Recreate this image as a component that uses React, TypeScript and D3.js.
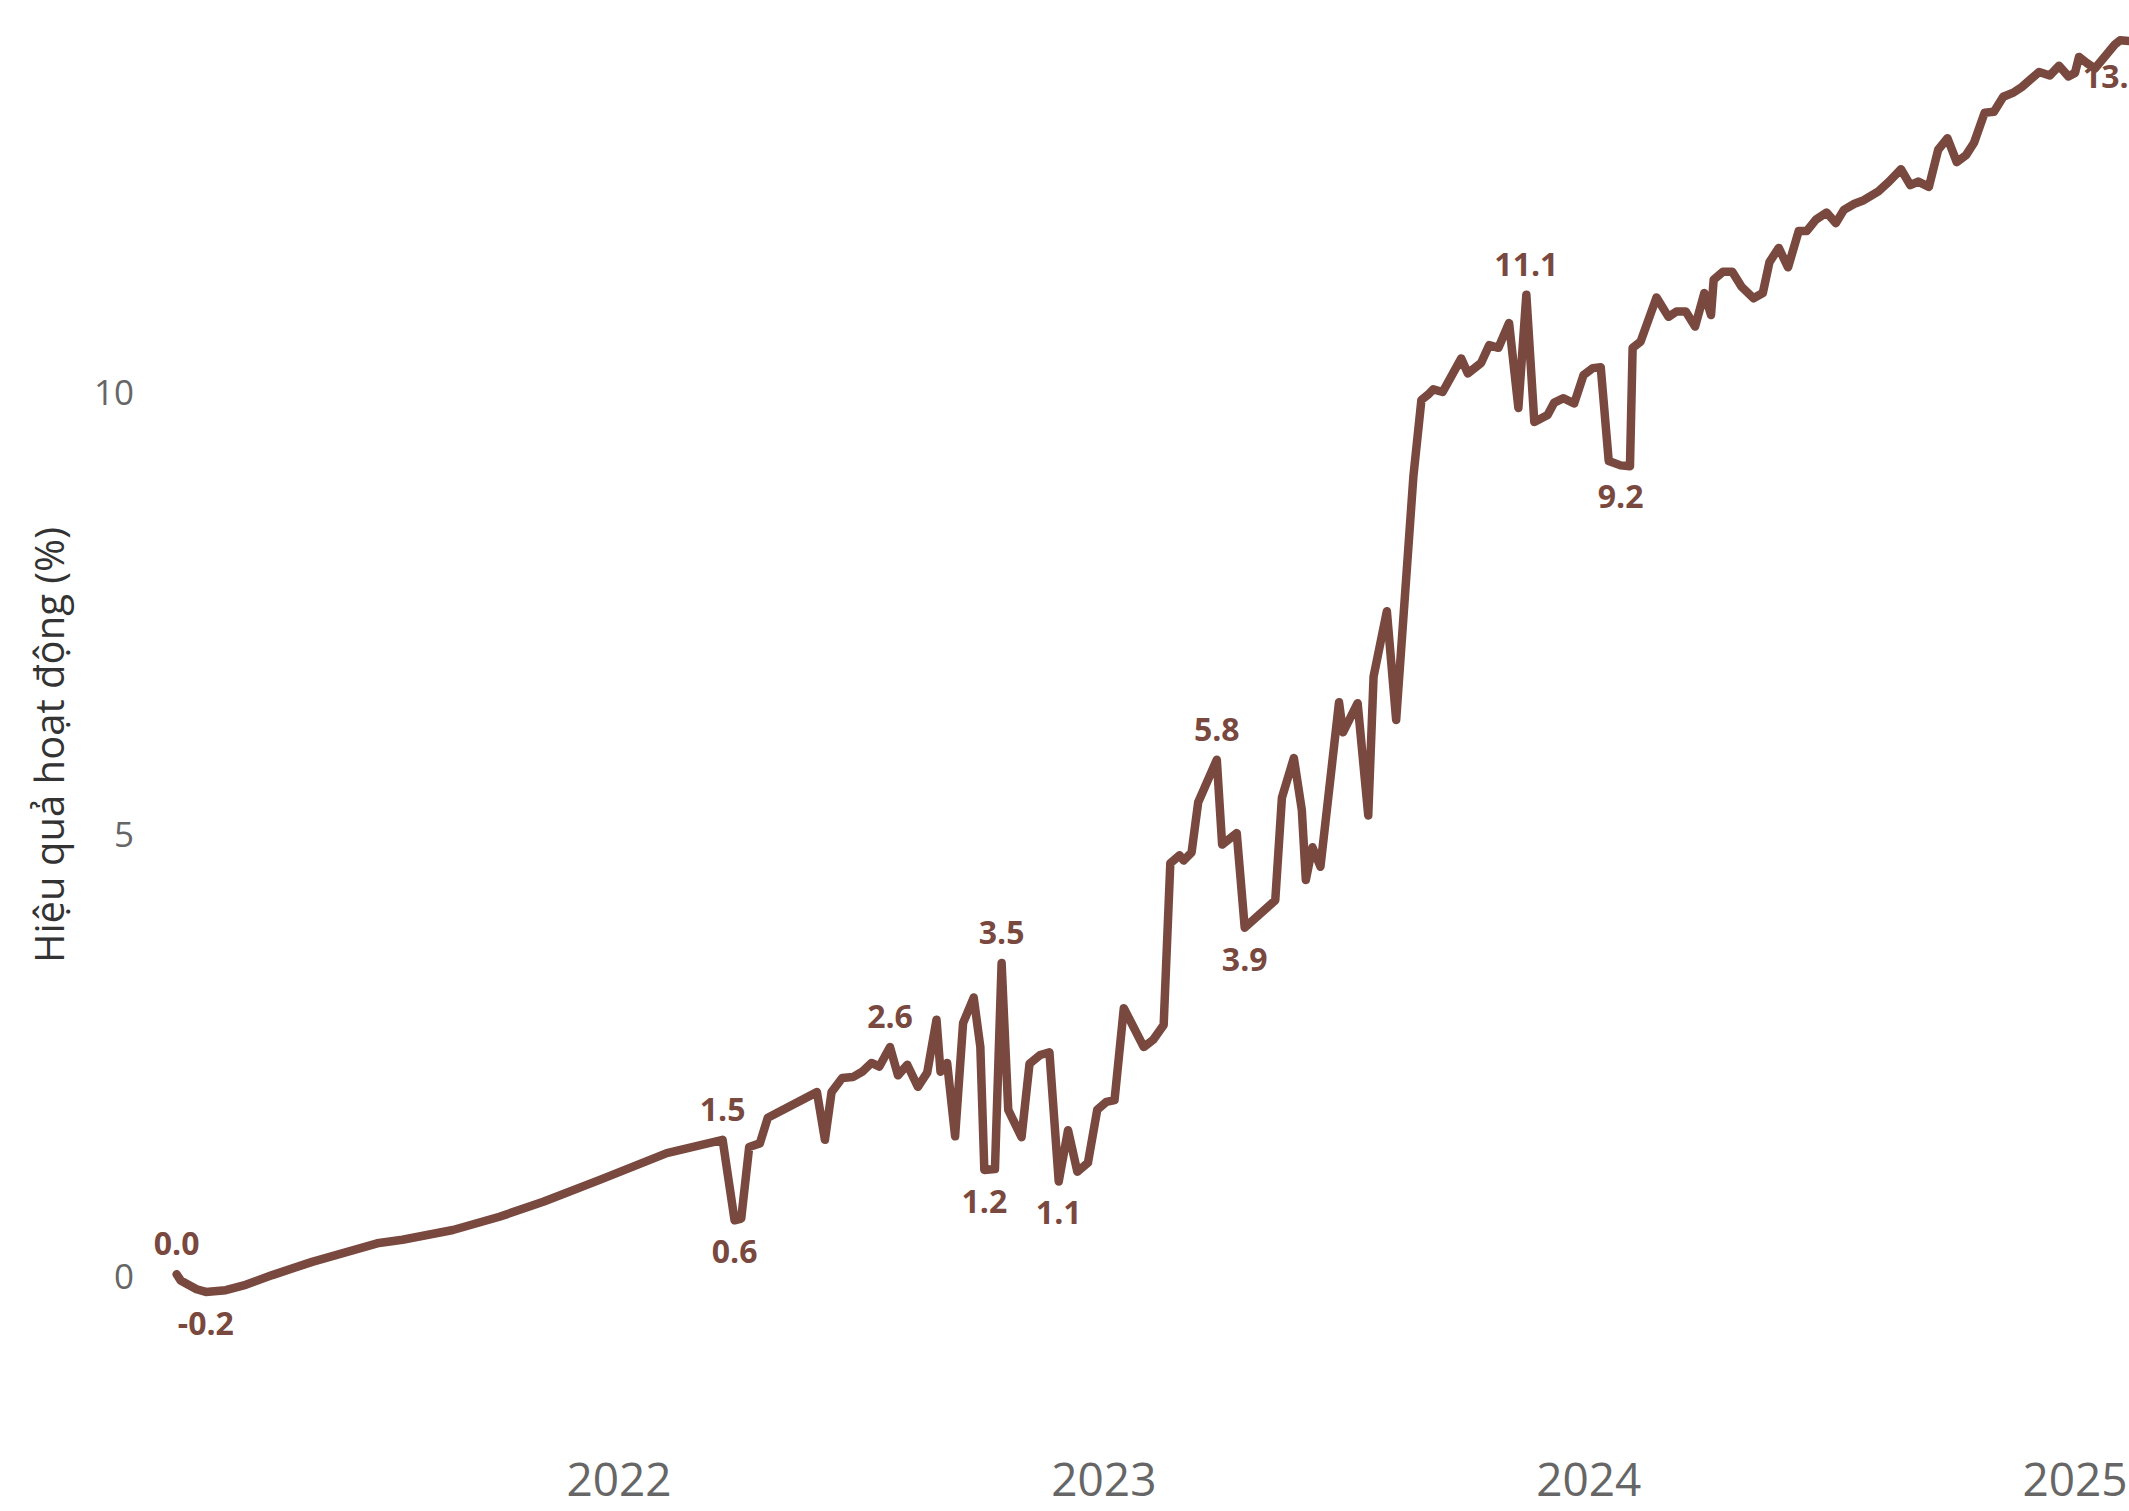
import React from "react";
import * as d3 from "d3";

const DATES = [
  "2021-02-02","2021-02-05","2021-02-17","2021-02-24","2021-03-11","2021-03-26","2021-04-15","2021-05-15",
  "2021-07-03","2021-07-22","2021-08-29","2021-10-03","2021-11-05","2021-12-18","2022-02-06","2022-03-20",
  "2022-03-29","2022-04-03","2022-04-09","2022-04-17","2022-04-23","2022-05-30","2022-06-05","2022-06-10",
  "2022-06-18","2022-06-26","2022-07-03","2022-07-10","2022-07-16","2022-07-24","2022-07-30","2022-08-06",
  "2022-08-14","2022-08-21","2022-08-28","2022-08-31","2022-09-05","2022-09-11","2022-09-17","2022-09-25",
  "2022-09-30","2022-10-03","2022-10-11","2022-10-16","2022-10-21","2022-10-31","2022-11-06","2022-11-14",
  "2022-11-21","2022-11-28","2022-12-05","2022-12-12","2022-12-20","2022-12-27","2023-01-03","2023-01-09",
  "2023-01-16","2023-01-31","2023-02-07","2023-02-15","2023-02-20","2023-02-27","2023-03-02","2023-03-08",
  "2023-03-13","2023-03-27","2023-03-31","2023-04-11","2023-04-17","2023-05-10","2023-05-15","2023-05-24",
  "2023-05-30","2023-06-02","2023-06-07","2023-06-13","2023-06-27","2023-06-30","2023-07-11","2023-07-19",
  "2023-07-23","2023-08-02","2023-08-09","2023-08-22","2023-08-28","2023-09-02","2023-09-06","2023-09-13",
  "2023-09-27","2023-10-02","2023-10-12","2023-10-18","2023-10-25","2023-11-02","2023-11-09","2023-11-15",
  "2023-11-21","2023-12-01","2023-12-06","2023-12-13","2023-12-21","2023-12-28","2024-01-04","2024-01-10",
  "2024-01-16","2024-01-25","2024-02-01","2024-02-03","2024-02-09","2024-02-21","2024-03-01","2024-03-07",
  "2024-03-14","2024-03-21","2024-03-28","2024-04-02","2024-04-04","2024-04-11","2024-04-18","2024-04-25",
  "2024-05-04","2024-05-11","2024-05-16","2024-05-23","2024-05-30","2024-06-07","2024-06-13","2024-06-20",
  "2024-06-28","2024-07-05","2024-07-11","2024-07-19","2024-07-26","2024-08-06","2024-08-14","2024-08-23",
  "2024-08-30","2024-09-05","2024-09-13","2024-09-20","2024-09-27","2024-10-04","2024-10-11","2024-10-17",
  "2024-10-25","2024-11-01","2024-11-08","2024-11-16","2024-11-22","2024-11-28","2024-12-05","2024-12-13",
  "2024-12-20","2024-12-27","2025-01-01","2025-01-04","2025-01-10","2025-01-16","2025-01-31","2025-02-04",
  "2025-02-17"
];

const VALUES = [
  0.02, -0.05, -0.15, -0.18, -0.16, -0.10, 0.01, 0.16,
  0.37, 0.41, 0.52, 0.67, 0.84, 1.09, 1.39, 1.54,
  0.63, 0.65, 1.46, 1.50, 1.79, 2.08, 1.54, 2.08,
  2.24, 2.25, 2.31, 2.41, 2.37, 2.59, 2.27, 2.39,
  2.14, 2.30, 2.90, 2.31, 2.41, 1.58, 2.86, 3.15,
  2.59, 1.20, 1.21, 3.54, 1.88, 1.57, 2.40, 2.50,
  2.53, 1.07, 1.65, 1.18, 1.28, 1.88, 1.97, 1.99,
  3.03, 2.59, 2.67, 2.84, 4.67, 4.76, 4.70, 4.79,
  5.36, 5.84, 4.88, 5.01, 3.94, 4.25, 5.41, 5.86,
  5.27, 4.48, 4.85, 4.63, 6.49, 6.15, 6.48, 5.21,
  6.78, 7.52, 6.29, 9.05, 9.91, 9.97, 10.03, 10.00,
  10.38, 10.21, 10.33, 10.53, 10.50, 10.78, 9.82, 11.10,
  9.66, 9.74, 9.88, 9.93, 9.87, 10.19, 10.27, 10.28,
  9.22, 9.17, 9.16, 10.50, 10.57, 11.07, 10.85, 10.91,
  10.91, 10.74, 11.12, 10.87, 11.27, 11.36, 11.36, 11.19,
  11.06, 11.12, 11.47, 11.63, 11.41, 11.82, 11.82, 11.95,
  12.03, 11.91, 12.06, 12.13, 12.17, 12.27, 12.38, 12.52,
  12.34, 12.38, 12.32, 12.74, 12.87, 12.60, 12.68, 12.82,
  13.16, 13.17, 13.34, 13.39, 13.45, 13.53, 13.62, 13.58,
  13.69, 13.57, 13.61, 13.79, 13.72, 13.66, 13.93, 13.98,
  13.96
];

const LABEL_DATES = [
  "2021-02-02","2021-02-24","2022-03-20","2022-03-29","2022-07-24","2022-10-03","2022-10-16",
  "2022-11-28","2023-03-27","2023-04-17","2023-11-15","2024-01-25","2025-01-31"
];
const LABEL_POS = [
  "above","below","above","below","above","below","above",
  "below","above","below","above","below","below"
];

const Y_TICKS = [0, 5, 10];
const X_TICKS = ["2022-01-01", "2023-01-01", "2024-01-01", "2025-01-01"];
const X_TICK_LABELS = ["2022", "2023", "2024", "2025"];
const Y_TITLE = "Hiệu quả hoạt động (%)";

const LINE_COLOR = "#79483e";
const FONT = "'Open Sans', 'Noto Sans', sans-serif";

export default function App() {
  const W = 2129;
  const H = 1511;
  const parse = d3.utcParse("%Y-%m-%d");
  const x = d3
    .scaleUtc()
    .domain([parse("2022-01-01") as Date, parse("2025-01-01") as Date])
    .range([619, 2075]);
  const y = d3.scaleLinear().domain([0, 10]).range([1276, 392]);

  const pts = DATES.map((d, i) => ({ d: parse(d) as Date, v: VALUES[i] }));
  const line = d3
    .line<{ d: Date; v: number }>()
    .x((p) => x(p.d))
    .y((p) => y(p.v));

  const labels = LABEL_DATES.map((ld, i) => {
    const idx = DATES.indexOf(ld);
    const p = pts[idx];
    return { x: x(p.d), y: y(p.v), text: p.v.toFixed(1), pos: LABEL_POS[i] };
  });

  return (
    <div style={{ position: "fixed", left: 0, top: 0, width: W, height: H, overflow: "hidden", background: "#fff" }}>
      <svg width={W} height={H} style={{ display: "block" }} fontFamily={FONT}>
        <rect x={0} y={0} width={W} height={H} fill="#fff" />
        {Y_TICKS.map((t) => (
          <text
            key={"y" + t}
            x={134}
            y={y(t)}
            dy="0.36em"
            textAnchor="end"
            fontSize={35}
            fill="#666"
          >
            {t}
          </text>
        ))}
        {X_TICKS.map((t, i) => (
          <text
            key={"x" + t}
            x={x(parse(t) as Date)}
            y={1496}
            textAnchor="middle"
            fontSize={46}
            fill="#666"
          >
            {X_TICK_LABELS[i]}
          </text>
        ))}
        <text
          transform={`translate(50,745) rotate(-90)`}
          textAnchor="middle"
          dy="0.36em"
          fontSize={40}
          fill="#333"
        >
          {Y_TITLE}
        </text>
        <path
          d={line(pts) || ""}
          fill="none"
          stroke={LINE_COLOR}
          strokeWidth={8.5}
          strokeLinejoin="round"
          strokeLinecap="round"
        />
        {labels.map((l, i) => (
          <text
            key={"l" + i}
            x={l.x}
            y={l.pos === "above" ? l.y - 19 : l.y + 43}
            textAnchor="middle"
            fontSize={32}
            fontWeight={700}
            fill={LINE_COLOR}
          >
            {l.text}
          </text>
        ))}
      </svg>
    </div>
  );
}
